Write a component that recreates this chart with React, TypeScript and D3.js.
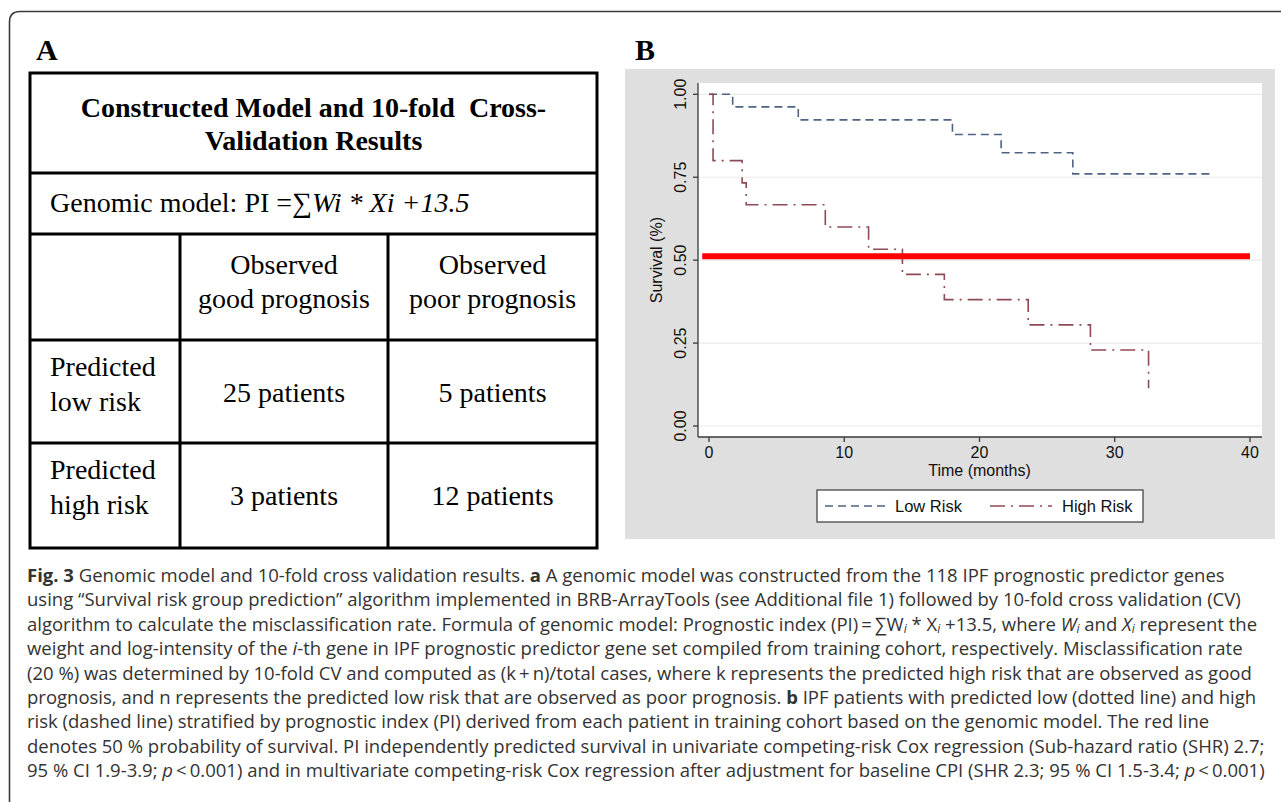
import React from 'react';
import * as d3 from 'd3';

// survival curves (Kaplan-Meier steps)
const lowTime = [0, 1.75, 6.6, 18.0, 21.6, 26.9, 37.2];
const lowSurv = [1, 0.962, 0.923, 0.879, 0.824, 0.76, 0.76];
const highTime = [0, 0.3, 2.45, 2.75, 8.6, 11.8, 14.3, 17.4, 23.6, 28.2, 32.5];
const highSurv = [1, 0.8, 0.733, 0.667, 0.6, 0.533, 0.457, 0.381, 0.305, 0.229, 0.114];
const xTicks = [0, 10, 20, 30, 40];
const yTicks = [0, 0.25, 0.5, 0.75, 1];
const refLine = 0.512;
const legendLabels = ['Low Risk', 'High Risk'];

// table A
const tableTitle = ['Constructed Model and 10-fold\u00a0 Cross-', 'Validation Results'];
const colHeads = [['Observed', 'good prognosis'], ['Observed', 'poor prognosis']];
const rowHeads = [['Predicted', 'low risk'], ['Predicted', 'high risk']];
const counts = [[25, 5], [3, 12]];

type Seg = { t: string; b?: boolean; i?: boolean; sub?: boolean };
const caption: Seg[][] = [
  [{ t: 'Fig. 3', b: true }, { t: ' Genomic model and 10-fold cross validation results. ' }, { t: 'a', b: true }, { t: ' A genomic model was constructed from the 118 IPF prognostic predictor genes' }],
  [{ t: 'using \u201cSurvival risk group prediction\u201d algorithm implemented in BRB-ArrayTools (see Additional file 1) followed by 10-fold cross validation (CV)' }],
  [{ t: 'algorithm to calculate the misclassification rate. Formula of genomic model: Prognostic index (PI)\u2009=\u2009\u2211W' }, { t: 'i', i: true, sub: true }, { t: ' * X' }, { t: 'i', i: true, sub: true }, { t: ' +13.5, where ' }, { t: 'W', i: true }, { t: 'i', i: true, sub: true }, { t: ' and ' }, { t: 'X', i: true }, { t: 'i', i: true, sub: true }, { t: ' represent the' }],
  [{ t: 'weight and log-intensity of the ' }, { t: 'i', i: true }, { t: '-th gene in IPF prognostic predictor gene set compiled from training cohort, respectively. Misclassification rate' }],
  [{ t: '(20 %) was determined by 10-fold CV and computed as (k\u2009+\u2009n)/total cases, where k represents the predicted high risk that are observed as good' }],
  [{ t: 'prognosis, and n represents the predicted low risk that are observed as poor prognosis. ' }, { t: 'b', b: true }, { t: ' IPF patients with predicted low (dotted line) and high' }],
  [{ t: 'risk (dashed line) stratified by prognostic index (PI) derived from each patient in training cohort based on the genomic model. The red line' }],
  [{ t: 'denotes 50 % probability of survival. PI independently predicted survival in univariate competing-risk Cox regression (Sub-hazard ratio (SHR) 2.7;' }],
  [{ t: '95 % CI 1.9-3.9; ' }, { t: 'p', i: true }, { t: '\u2009<\u20090.001) and in multivariate competing-risk Cox regression after adjustment for baseline CPI (SHR 2.3; 95 % CI 1.5-3.4; ' }, { t: 'p', i: true }, { t: '\u2009<\u20090.001)' }],
];

const serif = '"Liberation Serif", "Times New Roman", serif';
const sans = '"Liberation Sans", Arial, sans-serif';
const capFont = '"Open Sans", "Noto Sans", sans-serif';

const navy = '#4f6382';
const maroon = '#8e4a55';

function Segs({ segs }: { segs: Seg[] }) {
  const out: React.ReactNode[] = [];
  let shifted = false;
  segs.forEach((s, k) => {
    let dy: number | undefined;
    if (s.sub && !shifted) { dy = 2.5; shifted = true; }
    else if (!s.sub && shifted) { dy = -2.5; shifted = false; }
    out.push(
      <tspan key={k} dy={dy} fontWeight={s.b ? 700 : undefined} fontStyle={s.i ? 'italic' : undefined}
        fontSize={s.sub ? 12 : undefined}>{s.t}</tspan>
    );
  });
  return <>{out}</>;
}

export default function App() {
  const x = d3.scaleLinear().domain([0, 40]).range([709, 1250]);
  const y = d3.scaleLinear().domain([0, 1]).range([426, 94.3]);
  const plot = { x0: 698, x1: 1262, y0: 83, y1: 437 };

  const km = d3.line<[number, number]>()
    .x((d) => x(d[0]))
    .y((d) => y(d[1]))
    .curve(d3.curveStepAfter);
  const lowPath = km(lowTime.map((t, k) => [t, lowSurv[k]]));
  const highPath = km(highTime.map((t, k) => [t, highSurv[k]]));

  // table geometry
  const tx = [30, 180, 388, 597];
  const ty = [73, 173, 234, 340, 443, 548];

  return (
    <svg width={1281} height={802} style={{ position: 'absolute', left: 0, top: 0, background: '#fff' }}>
      {/* figure frame */}
      <path d="M9.5,802 L9.5,22 Q9.5,11.5 20,11.5 L1281,11.5" fill="none" stroke="#3c3c3c" strokeWidth={1.6} />

      {/* panel labels */}
      <text x={36} y={60} fontFamily={serif} fontWeight={700} fontSize={30}>A</text>
      <text x={635} y={60} fontFamily={serif} fontWeight={700} fontSize={30}>B</text>

      {/* ---- table A ---- */}
      <g fontFamily={serif} fill="#000">
        <rect x={tx[0]} y={ty[0]} width={tx[3] - tx[0]} height={ty[5] - ty[0]} fill="#fff" stroke="#000" strokeWidth={3} />
        {[1, 2, 3, 4].map((k) => (
          <line key={k} x1={tx[0]} x2={tx[3]} y1={ty[k]} y2={ty[k]} stroke="#000" strokeWidth={3} />
        ))}
        {[1, 2].map((k) => (
          <line key={k} x1={tx[k]} x2={tx[k]} y1={ty[2]} y2={ty[5]} stroke="#000" strokeWidth={3} />
        ))}
        {tableTitle.map((s, k) => (
          <text key={k} x={(tx[0] + tx[3]) / 2} y={117 + k * 33} textAnchor="middle" fontWeight={700} fontSize={28}>{s}</text>
        ))}
        <text x={50} y={212} fontSize={28}>
          Genomic model: PI =∑<tspan fontStyle="italic">Wi * Xi +13.5</tspan>
        </text>
        {colHeads.map((c, j) => c.map((s, k) => (
          <text key={`${j}-${k}`} x={(tx[j + 1] + tx[j + 2]) / 2} y={274 + k * 34} textAnchor="middle" fontSize={28}>{s}</text>
        )))}
        {rowHeads.map((r, i) => r.map((s, k) => (
          <text key={`${i}-${k}`} x={50} y={ty[3 + i] + 36 + k * 35} fontSize={28}>{s}</text>
        )))}
        {counts.map((r, i) => r.map((v, j) => (
          <text key={`${i}-${j}`} x={(tx[j + 1] + tx[j + 2]) / 2} y={ty[3 + i] + 62} textAnchor="middle" fontSize={28}>{`${v} patients`}</text>
        )))}
      </g>

      {/* ---- chart B ---- */}
      <rect x={625} y={69} width={650} height={470} fill="#dfdfdf" />
      <rect x={plot.x0} y={plot.y0} width={plot.x1 - plot.x0} height={plot.y1 - plot.y0} fill="#fff" />
      {yTicks.map((v) => (
        <line key={v} x1={plot.x0} x2={plot.x1} y1={y(v)} y2={y(v)} stroke="#ebebeb" strokeWidth={1.2} />
      ))}
      {/* axes */}
      <g stroke="#3a3a3a" strokeWidth={1.3} fill="none">
        <line x1={plot.x0} x2={plot.x0} y1={plot.y0} y2={plot.y1} />
        <line x1={plot.x0} x2={plot.x1} y1={plot.y1} y2={plot.y1} />
        {yTicks.map((v) => <line key={v} x1={plot.x0 - 5} x2={plot.x0} y1={y(v)} y2={y(v)} />)}
        {xTicks.map((v) => <line key={v} x1={x(v)} x2={x(v)} y1={plot.y1} y2={plot.y1 + 5} />)}
      </g>
      <g fontFamily={sans} fontSize={16} fill="#111">
        {yTicks.map((v) => (
          <text key={v} transform={`translate(680,${y(v)}) rotate(-90)`} textAnchor="middle" dominantBaseline="central">{v.toFixed(2)}</text>
        ))}
        {xTicks.map((v) => (
          <text key={v} x={x(v)} y={458} textAnchor="middle">{v}</text>
        ))}
        <text x={x(20)} y={476} textAnchor="middle">Time (months)</text>
        <text transform={`translate(656,${y(0.5)}) rotate(-90)`} textAnchor="middle" dominantBaseline="central">Survival (%)</text>
      </g>

      {/* curves */}
      <path d={lowPath ?? ''} fill="none" stroke={navy} strokeWidth={1.6} strokeDasharray="8,5" />
      <path d={highPath ?? ''} fill="none" stroke={maroon} strokeWidth={1.6} strokeDasharray="15,6,2,6" />
      <line x1={x(-0.5)} x2={x(40)} y1={y(refLine)} y2={y(refLine)} stroke="#ff0000" strokeWidth={6} />

      {/* legend */}
      <rect x={817} y={490} width={326} height={32} fill="#fff" stroke="#3a3a3a" strokeWidth={1.2} />
      <line x1={825} x2={885} y1={506} y2={506} stroke={navy} strokeWidth={1.6} strokeDasharray="8,5" />
      <line x1={990} x2={1052} y1={506} y2={506} stroke={maroon} strokeWidth={1.6} strokeDasharray="15,6,2,6" />
      <g fontFamily={sans} fontSize={16.5} fill="#111">
        <text x={895} y={512}>{legendLabels[0]}</text>
        <text x={1062} y={512}>{legendLabels[1]}</text>
      </g>

      {/* caption */}
      <g fontFamily={capFont} fontSize={18.5} fill="#333">
        {caption.map((line, k) => (
          <text key={k} x={27} y={582 + k * 24.4}>
            <Segs segs={line} />
          </text>
        ))}
      </g>
    </svg>
  );
}
